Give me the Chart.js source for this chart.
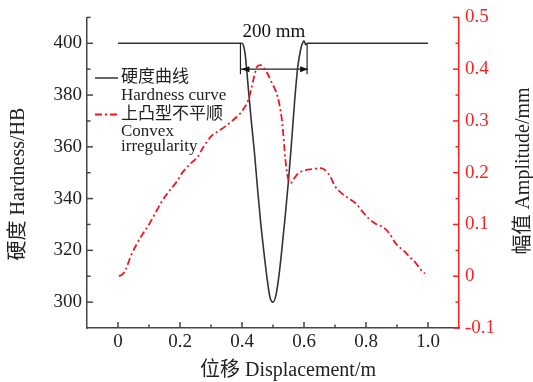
<!DOCTYPE html>
<html>
<head>
<meta charset="utf-8">
<script src="https://cdn.jsdelivr.net/npm/chart.js@4.4.0/dist/chart.umd.min.js"></script>
<style>
  html, body { margin: 0; padding: 0; background: #fff; }
  canvas { display: block; }
</style>
</head>
<body>
<canvas id="chart" width="533" height="382"></canvas>
<script>
// hardness curve (left axis, HB)
const hardnessX = [0, 0.40, 0.405, 0.41, 0.415, 0.42, 0.43, 0.44, 0.45, 0.46, 0.47, 0.48, 0.49, 0.50,
  0.51, 0.52, 0.53, 0.54, 0.55, 0.56, 0.57, 0.58, 0.59, 0.595, 0.60, 0.605, 0.61, 1.0];
const hardnessY = [400, 400, 399, 396, 390, 383, 370, 358, 344, 331, 320, 310, 302, 300,
  303, 311, 322, 334, 347, 362, 378, 391, 398, 400, 401, 399.5, 400, 400];

// convex irregularity (right axis, mm)
const amplitudeX = [0.003, 0.015, 0.025, 0.04, 0.055, 0.08, 0.10, 0.125, 0.145, 0.167, 0.19, 0.21,
  0.235, 0.255, 0.275, 0.30, 0.32, 0.345, 0.37, 0.39, 0.405, 0.42, 0.43, 0.44, 0.45, 0.46, 0.47,
  0.48, 0.495, 0.51, 0.52, 0.53, 0.54, 0.548, 0.557, 0.565, 0.58, 0.605, 0.63, 0.655, 0.67, 0.685,
  0.70, 0.72, 0.745, 0.77, 0.79, 0.81, 0.835, 0.855, 0.875, 0.895, 0.92, 0.94, 0.96, 0.975, 0.99];
const amplitudeY = [0.000, 0.004, 0.013, 0.037, 0.056, 0.082, 0.100, 0.127, 0.148, 0.166, 0.183, 0.202,
  0.218, 0.229, 0.249, 0.270, 0.279, 0.289, 0.301, 0.312, 0.323, 0.340, 0.362, 0.388, 0.406, 0.408, 0.403,
  0.394, 0.375, 0.356, 0.334, 0.295, 0.225, 0.190, 0.180, 0.186, 0.198, 0.205, 0.207, 0.209, 0.204, 0.192,
  0.174, 0.161, 0.150, 0.139, 0.124, 0.111, 0.100, 0.095, 0.083, 0.064, 0.050, 0.038, 0.026, 0.014, 0.005];

// ticks
const xTicks = [0, 0.2, 0.4, 0.6, 0.8, 1.0];
const xMinor = [0.1, 0.3, 0.5, 0.7, 0.9];
const hardTicks = [300, 320, 340, 360, 380, 400];
const hardMinor = [310, 330, 350, 370, 390, 410];
const ampTicks = [-0.1, 0, 0.1, 0.2, 0.3, 0.4, 0.5];
const ampMinor = [-0.05, 0.05, 0.15, 0.25, 0.35, 0.45];

// 200 mm dimension mark
const dimX = [0.395, 0.61];
const dimY = [400, 388];
const arrowY = 390;
const dimLabel = '200 mm';

const RED = 'rgb(245,20,30)';
const AXIS_RED = '#ff2020';
const DARK = '#333';
const SERIF = '"Liberation Serif", "Noto Sans CJK SC", serif';

const pts = (xs, ys) => xs.map((x, i) => ({ x, y: ys[i] }));
const fmt = v => v === 0 ? '0' : v.toFixed(1);
const noGrid = { display: false, drawTicks: false, tickLength: 0 };

const dimLine = data => ({
  data, yAxisID: 'y', borderColor: '#222', borderWidth: 1.2,
  pointRadius: 0, tension: 0, order: 3
});

// inward ticks, axis titles, legend, arrow heads
const extras = {
  id: 'extras',
  afterDraw(chart) {
    const { ctx, chartArea: a, scales } = chart;
    const sx = scales.x, sy = scales.y, sy1 = scales.y1;
    ctx.save();
    ctx.lineWidth = 1.5;

    ctx.strokeStyle = '#444';
    const tick = (list, len, fn) => list.forEach(v => { ctx.beginPath(); fn(v, len); ctx.stroke(); });
    const xt = (v, len) => { const p = sx.getPixelForValue(v); ctx.moveTo(p, a.bottom); ctx.lineTo(p, a.bottom - len); };
    const yt = (v, len) => { const p = sy.getPixelForValue(v); ctx.moveTo(a.left, p); ctx.lineTo(a.left + len, p); };
    tick(xTicks, 6, xt); tick(xMinor, 3.5, xt);
    tick(hardTicks, 6, yt); tick(hardMinor, 3.5, yt);
    ctx.strokeStyle = AXIS_RED;
    const rt = (v, len) => { const p = sy1.getPixelForValue(v); ctx.moveTo(a.right, p); ctx.lineTo(a.right - len, p); };
    tick(ampTicks, 6, rt); tick(ampMinor, 3.5, rt);

    // arrow heads on the dimension line
    const ay = sy.getPixelForValue(arrowY);
    const x0 = sx.getPixelForValue(dimX[0]), x1 = sx.getPixelForValue(dimX[1]);
    ctx.fillStyle = '#111';
    [[x0, 1], [x1, -1]].forEach(([px, d]) => {
      ctx.beginPath();
      ctx.moveTo(px + 1, ay);
      ctx.lineTo(px + 1 + d * 8, ay - 3);
      ctx.lineTo(px + 1 + d * 8, ay + 3);
      ctx.closePath();
      ctx.fill();
    });

    ctx.fillStyle = '#111';
    ctx.textAlign = 'center';
    ctx.textBaseline = 'middle';
    ctx.font = '19px ' + SERIF;
    ctx.fillText(dimLabel, sx.getPixelForValue(0.503), sy.getPixelForValue(404.3));

    // axis titles
    ctx.font = '20px ' + SERIF;
    ctx.fillStyle = '#222';
    ctx.fillText('位移 Displacement/m', 288, 371);
    ctx.save();
    ctx.translate(19, 184);
    ctx.rotate(-Math.PI / 2);
    ctx.fillText('硬度 Hardness/HB', 0, 0);
    ctx.restore();
    ctx.save();
    ctx.translate(524, 171);
    ctx.rotate(-Math.PI / 2);
    ctx.fillText('幅值 Amplitude/mm', 0, 0);
    ctx.restore();

    // legend
    ctx.textAlign = 'left';
    ctx.font = '17px ' + SERIF;
    ctx.strokeStyle = DARK;
    ctx.lineWidth = 1.5;
    ctx.beginPath(); ctx.moveTo(95, 78); ctx.lineTo(118, 78); ctx.stroke();
    ctx.strokeStyle = RED;
    ctx.lineWidth = 1.8;
    ctx.setLineDash([7, 3, 2, 3]);
    ctx.beginPath(); ctx.moveTo(95, 114.5); ctx.lineTo(118, 114.5); ctx.stroke();
    ctx.setLineDash([]);
    ctx.fillStyle = '#222';
    ctx.fillText('硬度曲线', 121, 78);
    ctx.fillText('Hardness curve', 121, 95.5);
    ctx.fillText('上凸型不平顺', 121, 114.5);
    ctx.fillText('Convex', 121, 131.5);
    ctx.fillText('irregularity', 121, 147);
    ctx.restore();
  }
};

new Chart(document.getElementById('chart'), {
  type: 'line',
  data: {
    datasets: [
      {
        label: '硬度曲线 Hardness curve',
        data: pts(hardnessX, hardnessY),
        yAxisID: 'y', borderColor: DARK, borderWidth: 1.6,
        pointRadius: 0, cubicInterpolationMode: 'monotone', order: 2
      },
      {
        label: '上凸型不平顺 Convex irregularity',
        data: pts(amplitudeX, amplitudeY),
        yAxisID: 'y1', borderColor: RED, borderWidth: 1.8, borderDash: [7, 3, 2, 3],
        pointRadius: 0, cubicInterpolationMode: 'monotone', order: 1
      },
      dimLine([{ x: dimX[0], y: dimY[0] }, { x: dimX[0], y: dimY[1] }]),
      dimLine([{ x: dimX[1], y: dimY[0] }, { x: dimX[1], y: dimY[1] }]),
      dimLine([{ x: dimX[0], y: arrowY }, { x: dimX[1], y: arrowY }])
    ]
  },
  options: {
    responsive: false,
    animation: false,
    layout: { padding: { top: 17, left: 0, right: 0, bottom: 0 } },
    plugins: { legend: { display: false }, tooltip: { enabled: false } },
    scales: {
      x: {
        type: 'linear', min: -0.1, max: 1.1,
        afterBuildTicks: s => { s.ticks = xTicks.map(value => ({ value })); },
        afterFit: s => { s.height = 54; },
        grid: noGrid,
        border: { color: '#444', width: 1.5 },
        ticks: { color: '#222', padding: 3, maxRotation: 0, autoSkip: false,
          font: { family: SERIF, size: 19 }, callback: fmt }
      },
      y: {
        type: 'linear', position: 'left', min: 290, max: 410,
        afterBuildTicks: s => { s.ticks = hardTicks.map(value => ({ value })); },
        afterFit: s => { s.width = 87; },
        grid: noGrid,
        border: { color: '#444', width: 1.5 },
        ticks: { color: '#222', padding: 5, font: { family: SERIF, size: 19 }, callback: v => String(v) }
      },
      y1: {
        type: 'linear', position: 'right', min: -0.1, max: 0.5,
        afterBuildTicks: s => { s.ticks = ampTicks.map(value => ({ value })); },
        afterFit: s => { s.width = 74; },
        grid: noGrid,
        border: { color: AXIS_RED, width: 1.5 },
        ticks: { color: AXIS_RED, padding: 6, font: { family: SERIF, size: 19 }, callback: fmt }
      }
    }
  },
  plugins: [extras]
});
</script>
</body>
</html>
